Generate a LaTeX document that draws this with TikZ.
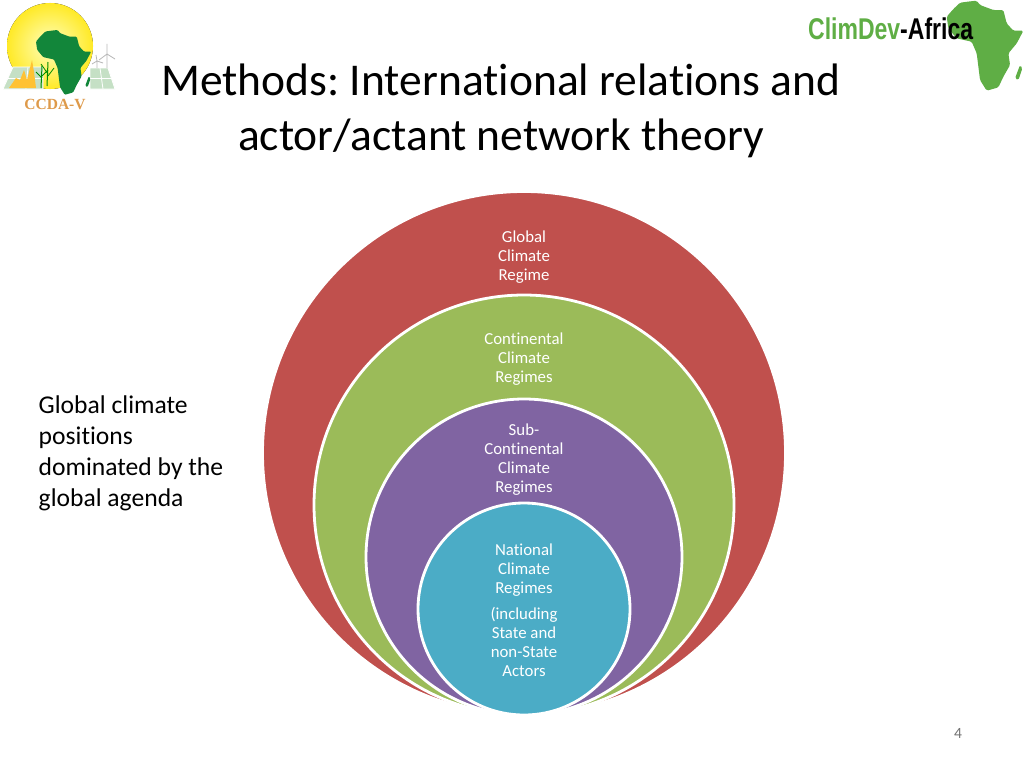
\documentclass[tikz,border=0pt]{standalone}
\usepackage{fontspec}
\setmainfont{Carlito}[Ligatures=NoCommon]
\newfontfamily\logosans{Liberation Sans}
\newfontfamily\logoserif{Liberation Serif}
\usepackage{tikz}
\definecolor{regimered}{HTML}{C0504D}
\definecolor{regimegreen}{HTML}{9BBB59}
\definecolor{regimepurple}{HTML}{8064A2}
\definecolor{regimeblue}{HTML}{4BACC6}
\definecolor{logogreen}{HTML}{5FAE45}
\definecolor{sungreen}{HTML}{12863A}
\definecolor{logoorange}{HTML}{DE9A4A}
\newcommand{\africaoutline}{(0,48) -- (20,25) -- (40,6) -- (70,2) -- (90,0) -- (100,13) -- (140,28) -- (170,28) -- (180,68) -- (200,90) -- (230,90) -- (210,128) -- (185,158) -- (190,193) -- (170,228) -- (155,260) -- (120,270) -- (100,238) -- (95,198) -- (90,158) -- (75,123) -- (30,113) -- (5,83) -- cycle}
\newcommand{\madagascar}{(220,193) -- (205,233) -- (215,238) -- (227,203) -- cycle}
\tikzset{
    circlefill/.style = {draw = white, line width = 2.8pt},
    regimetext/.style = {text = white, align = center, font = \fontsize{16.8}{19}\selectfont},
    panelline/.style = {draw = white, line width = 0.8pt, fill = green!30!gray!35},
    turbine/.style = {draw = gray!55, line width = 0.8pt}
}
\begin{document}
\frenchspacing
\begin{tikzpicture}[x = 1pt, y = -1pt]
    \useasboundingbox [fill = white] (0, 0) rectangle (1024, 768);
    % nested circles
    \draw [circlefill, fill = regimered] (524, 453) circle [radius = 261.5];
    \draw [circlefill, fill = regimegreen] (524, 505) circle [radius = 210];
    \draw [circlefill, fill = regimepurple] (524, 557) circle [radius = 158];
    \draw [circlefill, fill = regimeblue] (524, 609) circle [radius = 106];
    \node [regimetext] (globalregime) at (524, 257) {Global\\Climate\\Regime};
    \node [regimetext] (continentalregime) at (524, 359) {Continental\\Climate\\Regimes};
    \node [regimetext] (subregime) at (524, 460) {Sub-\\Continental\\Climate\\Regimes};
    \node [regimetext] (nationalregime) at (524, 570) {National\\Climate\\Regimes};
    \node [regimetext] (nationalactors) at (524, 641.5) {(including\\State and\\non-State\\Actors};
    % title and side text
    \node [align = center, font = \fontsize{45.5}{55.5}\selectfont] (title) at (501, 111)
        {Methods: International relations and\\actor/actant network theory};
    \node [anchor = west, align = left, inner sep = 0pt, font = \fontsize{25.6}{31}\selectfont] (sidetext) at (38.5, 453.5)
        {Global climate\\positions\\dominated by the\\global agenda};
    \node [text = black!55, font = \fontsize{15.6}{19}\selectfont] (pagenumber) at (958, 733) {4};
    % right logo
    \begin{scope}[shift = {(946.7, 0.7)}, scale = 1/3, rounded corners = 1.5pt]
        \fill [logogreen] \africaoutline;
        \fill [logogreen] \madagascar;
    \end{scope}
    \node [anchor = west, inner sep = 0pt, xscale = 0.767, transform shape, font = \logosans\bfseries\fontsize{30}{30}\selectfont] (climdev) at (808, 29)
        {\textcolor{logogreen}{ClimDev}-Africa};
    % left logo
    \fill [inner color = yellow!25!white, outer color = yellow!80!orange!85!white] (50, 46) circle [radius = 43];
    \draw [panelline] (13, 67) -- (3, 89) -- (43, 89) -- (43, 67) -- cycle;
    \draw [panelline] (90, 68) -- (90, 89) -- (115, 89) -- (108, 68) -- cycle;
    \draw [panelline] (8, 78) -- (43, 78);
    \draw [panelline] (90, 78) -- (111, 78);
    \draw [panelline] (28, 67) -- (26, 89);
    \draw [panelline] (100, 68) -- (103, 89);
    \draw [turbine] (107, 68) -- (107, 54) -- (107, 44) (107, 54) -- (115, 59) (107, 54) -- (99, 60);
    \draw [turbine] (97, 68) -- (97, 61) (97, 61) -- (92, 64) (97, 61) -- (103, 63) (97, 61) -- (96, 55);
    \fill [orange!60!yellow!80!white] (9, 88) -- (16, 78) -- (20, 80) -- (24, 70) -- (27, 80) -- (32, 60) -- (34, 72) -- (36, 88) -- cycle;
    \draw [green!55!black, line width = 1pt] (41, 88) -- (42, 66) (47, 86) -- (48, 62);
    \draw [green!55!black, line width = 0.8pt] (36, 72) -- (42, 78) (48, 70) -- (42, 76) (41, 64) -- (48, 74) (54, 68) -- (48, 76);
    \begin{scope}[shift = {(36, 30)}, scale = 0.24, rounded corners = 1pt]
        \fill [sungreen] \africaoutline;
        \fill [sungreen] \madagascar;
    \end{scope}
    \node [text = logoorange, inner sep = 0pt, font = \logoserif\bfseries\fontsize{15.5}{15.5}\selectfont] (ccda) at (55, 104.5) {CCDA-V};
\end{tikzpicture}
\end{document}
